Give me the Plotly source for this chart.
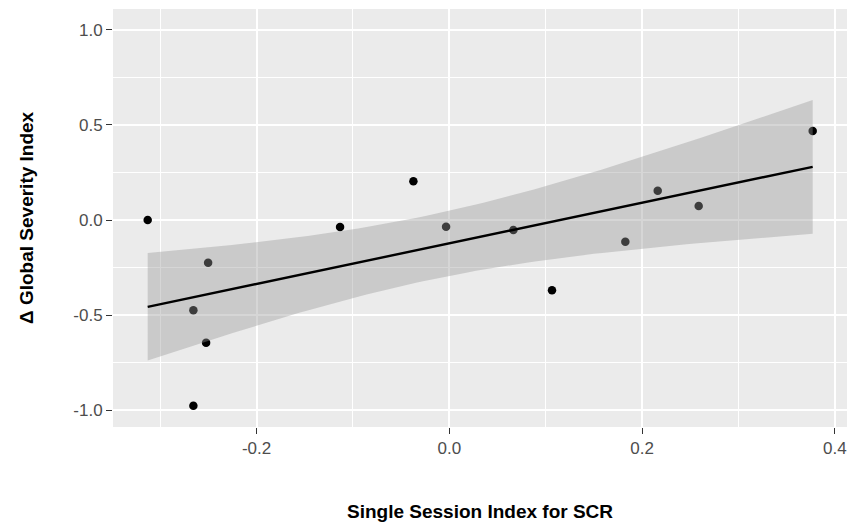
import numpy as np
import plotly.graph_objects as go

# ---- data ----
scr_index = [-0.313, -0.2503, -0.2656, -0.2524, -0.2656, -0.1134, -0.0373,
             -0.0034, 0.0664, 0.1065, 0.1826, 0.2162, 0.2587, 0.377]
delta_gsi = [0.0, -0.224, -0.474, -0.644, -0.976, -0.037, 0.203,
             -0.035, -0.0525, -0.369, -0.114, 0.154, 0.0735, 0.467]

x_tick_vals = [-0.2, 0.0, 0.2, 0.4]
x_tick_text = ["-0.2", "0.0", "0.2", "0.4"]
y_tick_vals = [-1.0, -0.5, 0.0, 0.5, 1.0]
y_tick_text = ["-1.0", "-0.5", "0.0", "0.5", "1.0"]

x_title = "Single Session Index for SCR"
y_title = "\u0394 Global Severity Index"

T_975_DF12 = 2.1788128  # t quantile for 95% CI, n-2 = 12 df

# ---- linear model with 95% confidence band (like geom_smooth(method='lm')) ----
x = np.array(scr_index)
y = np.array(delta_gsi)
n = len(x)
xbar = x.mean()
sxx = ((x - xbar) ** 2).sum()
slope = ((x - xbar) * (y - y.mean())).sum() / sxx
intercept = y.mean() - slope * xbar
resid = y - (intercept + slope * x)
s = np.sqrt((resid ** 2).sum() / (n - 2))
xs = np.linspace(x.min(), x.max(), 80)
fit = intercept + slope * xs
se = s * np.sqrt(1.0 / n + (xs - xbar) ** 2 / sxx)
upper = fit + T_975_DF12 * se
lower = fit - T_975_DF12 * se

FONT = "Liberation Sans, Arial, sans-serif"

fig = go.Figure()
fig.add_trace(go.Scatter(x=x, y=y, mode="markers",
                         marker=dict(color="black", size=8.5, line=dict(width=0)),
                         showlegend=False, hoverinfo="x+y"))
fig.add_trace(go.Scatter(x=np.concatenate([xs, xs[::-1]]),
                         y=np.concatenate([upper, lower[::-1]]),
                         fill="toself", fillcolor="rgba(153,153,153,0.4)",
                         line=dict(width=0), mode="lines",
                         showlegend=False, hoverinfo="skip"))
fig.add_trace(go.Scatter(x=xs, y=fit, mode="lines",
                         line=dict(color="black", width=2.4),
                         showlegend=False))

axis_common = dict(
    showgrid=True, gridcolor="white", gridwidth=1.8,
    zeroline=False, showline=False,
    ticks="outside", ticklen=6, tickwidth=1.1, tickcolor="#333333",
    tickfont=dict(family=FONT, size=17, color="#4D4D4D"),
)

fig.update_layout(
    width=849, height=522,
    margin=dict(l=113, r=2, t=9, b=95),
    paper_bgcolor="white", plot_bgcolor="#EBEBEB",
    xaxis=dict(range=[-0.349, 0.4126], tickvals=x_tick_vals, ticktext=x_tick_text,
               minor=dict(dtick=0.1, tick0=0, showgrid=True, gridcolor="white",
                          gridwidth=0.9, ticks=""),
               **axis_common),
    yaxis=dict(range=[-1.087, 1.108], tickvals=y_tick_vals, ticktext=y_tick_text,
               minor=dict(dtick=0.25, tick0=0, showgrid=True, gridcolor="white",
                          gridwidth=0.9, ticks=""),
               **axis_common),
    annotations=[
        dict(text="<b>" + x_title + "</b>", xref="paper", yref="paper",
             x=0.5, y=0, xanchor="center", yanchor="middle", yshift=-84,
             showarrow=False, font=dict(family=FONT, size=19, color="black")),
        dict(text="<b>" + y_title + "</b>", xref="paper", yref="paper",
             x=0, y=0.5, xanchor="center", yanchor="middle", xshift=-87,
             textangle=-90, showarrow=False,
             font=dict(family=FONT, size=19, color="black")),
    ],
)

fig.write_html("out.html", config={"displayModeBar": False},
               post_script="document.body.style.margin='0';document.body.style.padding='0';")
